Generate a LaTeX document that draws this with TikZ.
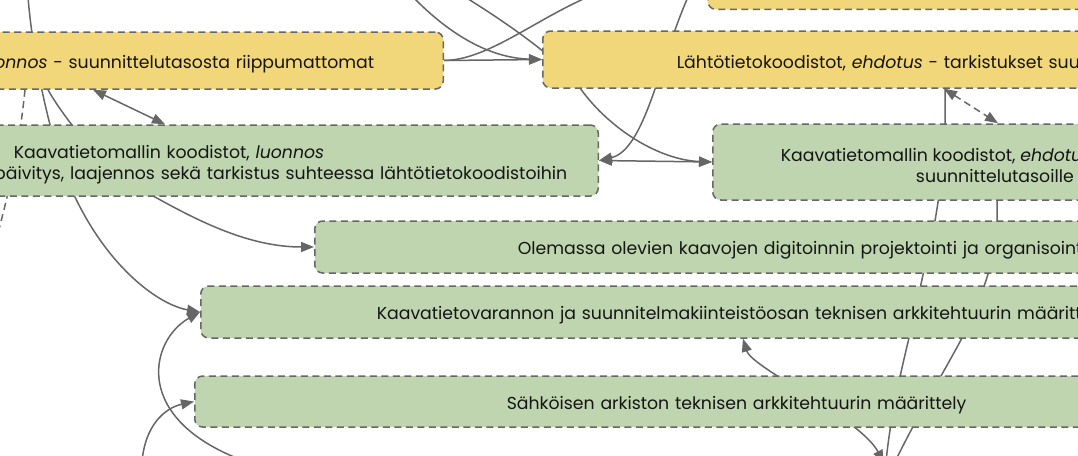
\documentclass[tikz,border=0pt]{standalone}
\usepackage{fontspec}
\setmainfont{Poppins}
\usetikzlibrary{arrows.meta}
\pgfdeclarelayer{background}
\pgfsetlayers{background,main}
\definecolor{boxyellow}{HTML}{F1D67A}
\definecolor{boxgreen}{HTML}{BFD5AF}
\definecolor{edgegray}{HTML}{666666}
\definecolor{textblack}{HTML}{151515}
\newcommand{\lowtxt}[1]{\raisebox{-3.5pt}[\height][\depth]{#1}}
\begin{document}
\begin{tikzpicture}[x=1pt,y=-1pt,
  font=\fontsize{17.3}{21}\selectfont,
  box/.style={draw=edgegray, line width=1.5pt, dash pattern=on 7pt off 4.5pt,
    rounded corners=8pt, inner ysep=0pt, text=textblack},
  ybox/.style={box, fill=boxyellow},
  gbox/.style={box, fill=boxgreen},
  conn/.style={draw=edgegray, line width=1.5pt},
  arrowend/.style={-{Triangle[length=13pt,width=10pt]}},
  bothends/.style={{Triangle[length=13pt,width=10pt]}-{Triangle[length=13pt,width=10pt]}},
  dashconn/.style={conn, dash pattern=on 7pt off 4.5pt}
]
\useasboundingbox (0,0) rectangle (1078,455);

% boxes
\node[ybox, anchor=east, minimum height=57pt, text width=800pt, align=right, inner xsep=69pt] (A) at (444,60.5)
  {\lowtxt{Lähtötietokoodistot, \textit{luonnos} - suunnittelutasosta riippumattomat}};
\node[ybox, anchor=west, minimum height=57pt, text width=900pt, align=left, inner xsep=134pt] (B) at (542,59.5)
  {\lowtxt{Lähtötietokoodistot, \textit{ehdotus} - tarkistukset suunnittelutasoille}};
\node[ybox, anchor=south west, minimum width=600pt, minimum height=60pt] (C) at (707,10) {};
\node[gbox, anchor=east, minimum height=71pt, text width=900pt, align=right, inner xsep=31pt] (D) at (599,160.5)
  {\raisebox{-4.5pt}[\height][\depth]{Kaavatietomallin koodistot, \textit{luonnos}\hspace*{243pt}}\\
   \raisebox{-4.5pt}[\height][\depth]{päivitys, laajennos sekä tarkistus suhteessa lähtötietokoodistoihin}};
\node[gbox, anchor=west, minimum height=76pt, align=center, inner xsep=68pt] (E) at (712,162)
  {\lowtxt{Kaavatietomallin koodistot, \textit{ehdotus} - tarkistukset}\\ \lowtxt{suunnittelutasoille}};
\node[gbox, anchor=west, minimum height=52pt, text width=900pt, align=left, inner xsep=203pt] (F) at (314,247)
  {\lowtxt{Olemassa olevien kaavojen digitoinnin projektointi ja organisointi}};
\node[gbox, anchor=west, minimum height=52pt, text width=900pt, align=left, inner xsep=176pt] (G) at (200,312)
  {\lowtxt{Kaavatietovarannon ja suunnitelmakiinteistöosan teknisen arkkitehtuurin määrittely}};
\node[gbox, anchor=west, minimum height=51pt, text width=900pt, align=left, inner xsep=312pt] (H) at (194,401.5)
  {\lowtxt{Sähköisen arkiston teknisen arkkitehtuurin määrittely}};

% free ends
\coordinate (t1) at (28,-3);
\coordinate (t2) at (413,-3);
\coordinate (t3) at (465,-3);
\coordinate (t4) at (600,-8);
\coordinate (t5) at (688,-3);
\coordinate (dl) at (-4,240);
\coordinate (b1) at (886,462);
\coordinate (b2) at (895,462);
\coordinate (b3) at (884,463);
\coordinate (b4) at (247,462);
\coordinate (b5) at (142,462);

\begin{pgfonlayer}{background}
\draw[conn, arrowend] (t1) .. controls (33,60) and (52,150) .. (75,197)
   .. controls (110,270) and (160,305) .. (G.west);
\draw[conn, arrowend] ([xshift=-396pt]A.south east) .. controls (62,115) and (110,180) .. (155,197)
   .. controls (200,222) and (250,247) .. (F.west);
\draw[dashconn] ([xshift=-419pt]A.south east) .. controls (20,140) and (10,190) .. (dl);
\draw[conn, bothends] ([xshift=-351pt]A.south east) -- ([xshift=-434pt]D.north east);
\draw[conn, arrowend] (A.east) -- (B.west);
\draw[conn, arrowend] (t2) .. controls (450,35) and (490,58) .. (B.west);
\draw[conn] (A.east) .. controls (490,60) and (540,15) .. (t4);
\draw[conn, arrowend] (t3) .. controls (510,25) and (560,60) .. (580,88)
   .. controls (610,130) and (660,160) .. (E.west);
\draw[conn, arrowend] (t5) .. controls (660,60) and (645,150) .. (D.east);
\draw[conn, bothends] (D.east) -- (E.west);
\draw[dashconn, bothends] ([xshift=402pt]B.south west) -- ([xshift=286pt]E.north west);
\draw[conn] ([xshift=403pt,yshift=20pt]B.south west) -- (945,124)
   .. controls (945,160) and (940,190) .. (935,221) -- (909,338)
   .. controls (900,375) and (890,420) .. (b1);
\draw[conn] ([xshift=285pt,yshift=20pt]E.south west) -- (997,221)
   .. controls (995,260) and (985,290) .. (962,338)
   .. controls (945,370) and (915,420) .. (b2);
\draw[conn, bothends] ([xshift=543pt]G.south west) .. controls (752,368) and (860,418) .. (b3);
\draw[conn, arrowend] (b4) .. controls (130,420) and (150,340) .. (G.west);
\draw[conn, arrowend] (b5) .. controls (145,425) and (165,408) .. (H.west);
\end{pgfonlayer}
\end{tikzpicture}
\end{document}
